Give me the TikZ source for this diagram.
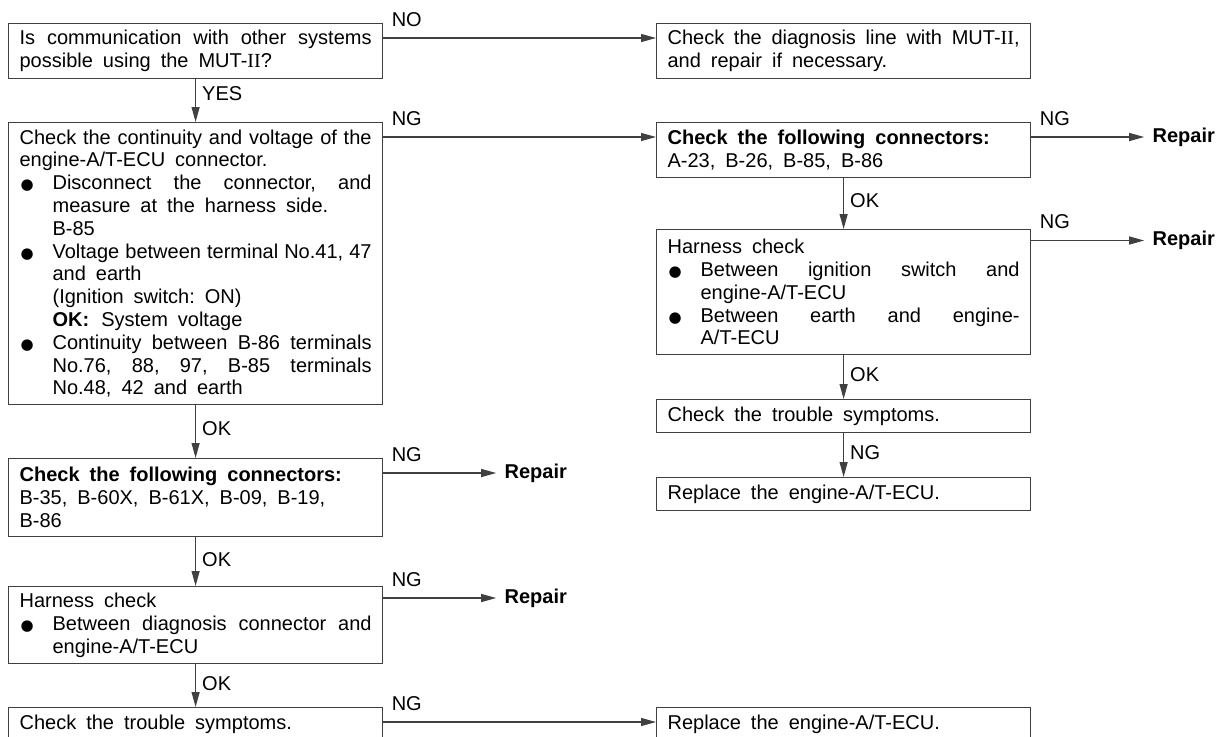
\documentclass[tikz,border=0pt]{standalone}
\usepackage{fontspec}
\setmainfont{Liberation Sans}
\newfontfamily\romfont{Liberation Serif}
\newfontfamily\dotfont{DejaVu Sans}
\usetikzlibrary{arrows.meta,calc}

\setlength{\parindent}{0pt}
\hbadness=10000 \hyphenpenalty=10000 \exhyphenpenalty=10000
\frenchspacing

\newcommand{\txtfont}{\fontsize{10}{11.4}\selectfont\spaceskip=5pt plus 10pt minus 2.5pt\relax}
\newcommand{\mut}{MUT-{\romfont II}}
\newcommand{\blt}{\par\hangindent=16.5pt\hangafter=1\makebox[16.5pt][l]{\hspace{0.5pt}{\dotfont\fontsize{7.5}{7.5}\selectfont ●}}}

\tikzset{
  box/.style={draw=black!75, line width=0.6pt, anchor=north west, text width=176pt,
    inner xsep=5.5pt, inner ysep=1pt, align=justify, font=\txtfont,
    execute at begin node={\txtfont\tolerance=9999}},
  arr/.style={draw=black!75, line width=0.6pt, -{Triangle[length=7.5pt,width=4pt]}},
  hlbl/.style={pos=0, anchor=south west, inner sep=0pt, xshift=4pt, yshift=5.5pt, font=\txtfont},
  vlbl/.style={pos=0.45, anchor=west, inner sep=3pt, font=\txtfont},
  rep/.style={anchor=west, inner xsep=4pt, font=\txtfont\bfseries},
}

\begin{document}
\begin{tikzpicture}[x=0.5pt,y=-0.5pt]
  \useasboundingbox (0,0) rectangle (1220,736);
  % left column
  \node[box, minimum height=27.5pt] (q1) at (8,23)
    {Is communication with other systems\linebreak possible using the \mut?};
  \node[box, minimum height=141pt] (cont) at (8,122)
    {Check the continuity and voltage of the\linebreak engine-A/T-ECU connector.
     \blt Disconnect the connector, and\linebreak measure at the harness side.\newline B-85
     \blt Voltage between terminal No.41, 47\linebreak and earth\newline (Ignition switch: ON)\newline \textbf{OK:}\hspace{6pt}System voltage
     \blt Continuity between B-86 terminals\linebreak No.76, 88, 97, B-85 terminals\linebreak No.48, 42 and earth\par};
  \node[box, minimum height=39pt] (lcon) at (8,458)
    {\textbf{Check the following connectors:}\newline B-35, B-60X, B-61X, B-09, B-19,\newline B-86};
  \node[box, minimum height=38.5pt] (lhar) at (8,586)
    {Harness check\blt Between diagnosis connector and\linebreak engine-A/T-ECU\par};
  \node[box, minimum height=16.5pt] (lsym) at (8,707) {Check the trouble symptoms.};
  % right column
  \node[box, minimum height=27.5pt] (diag) at (656,23)
    {Check the diagnosis line with \mut,\linebreak and repair if necessary.};
  \node[box, minimum height=27.5pt] (rcon) at (656,122)
    {\textbf{Check the following connectors:}\newline A-23, B-26, B-85, B-86};
  \node[box, minimum height=62.5pt] (rhar) at (656,229)
    {Harness check\blt Between ignition switch and\linebreak engine-A/T-ECU\blt Between earth and engine-\linebreak A/T-ECU\par};
  \node[box, minimum height=16.5pt] (rsym) at (656,399) {Check the trouble symptoms.};
  \node[box, minimum height=16.5pt] (rrep) at (656,477) {Replace the engine-A/T-ECU.};
  \node[box, minimum height=16.5pt] (lrep) at (656,707) {Replace the engine-A/T-ECU.};
  % repair ends
  \node[rep] (rp1) at ($(lcon.north east)+(113,15)$) {Repair};
  \node[rep] (rp2) at ($(lhar.north east)+(113,12)$) {Repair};
  \node[rep] (rp3) at ($(rcon.north east)+(113,15)$) {Repair};
  \node[rep] (rp4) at ($(rhar.north east)+(113,11.5)$) {Repair};
  % left flow
  \draw[arr] ([yshift=-7.5pt]q1.north east) -- node[hlbl]{NO} ([yshift=-7.5pt]diag.north west);
  \draw[arr] (q1) -- node[vlbl, pos=0.33]{YES} (cont);
  \draw[arr] ([yshift=-7.5pt]cont.north east) -- node[hlbl]{NG} ([yshift=-7.5pt]rcon.north west);
  \draw[arr] (cont) -- node[vlbl]{OK} (lcon);
  \draw[arr] (lcon.east |- rp1) -- node[hlbl]{NG} (rp1);
  \draw[arr] (lcon) -- node[vlbl]{OK} (lhar);
  \draw[arr] (lhar.east |- rp2) -- node[hlbl]{NG} (rp2);
  \draw[arr] (lhar) -- node[vlbl]{OK} (lsym);
  \draw[arr] ([yshift=-7.5pt]lsym.north east) -- node[hlbl]{NG} ([yshift=-7.5pt]lrep.north west);
  % right flow
  \draw[arr] (rcon.east |- rp3) -- node[hlbl]{NG} (rp3);
  \draw[arr] (rcon) -- node[vlbl]{OK} (rhar);
  \draw[arr] (rhar.east |- rp4) -- node[hlbl]{NG} (rp4);
  \draw[arr] (rhar) -- node[vlbl]{OK} (rsym);
  \draw[arr] (rsym) -- node[vlbl]{NG} (rrep);
\end{tikzpicture}
\end{document}
